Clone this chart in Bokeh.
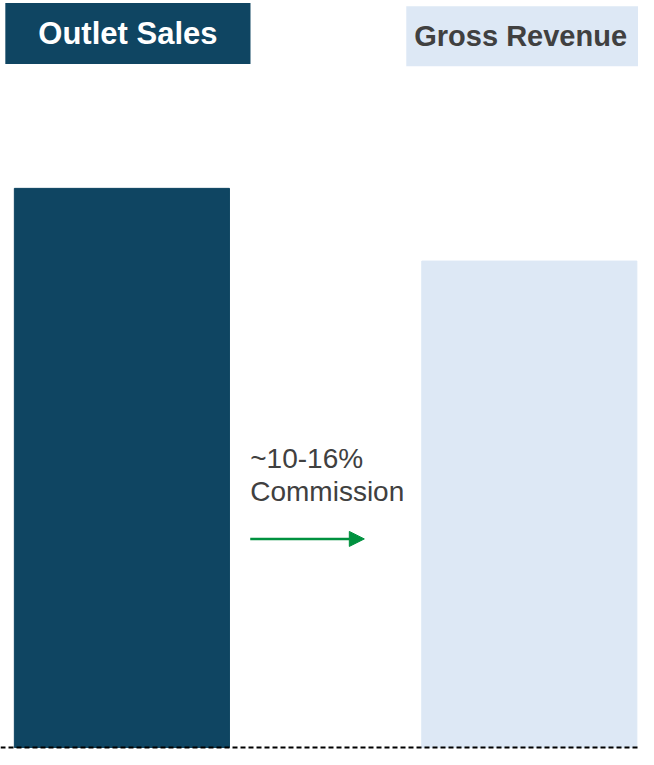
from bokeh.plotting import figure
from bokeh.models import ColumnDataSource, Range1d, Label, Span, Arrow, NormalHead
from bokeh.embed import file_html
from bokeh.resources import INLINE

# ---- data ----
categories = ["Outlet Sales", "Gross Revenue"]
values = [100, 87]
bar_colors = ["#0f4562", "#dde8f5"]
header_text_colors = ["#ffffff", "#404040"]
commission_text = "~10-16%\nCommission"

FONT = "Liberation Sans"

idx = list(range(len(categories)))
src = ColumnDataSource(dict(x=idx, top=values, color=bar_colors, cat=categories))

p = figure(width=638, height=749, output_backend="svg", toolbar_location=None,
           x_range=Range1d(-0.298, 1.268), y_range=Range1d(-0.36, 133.6),
           min_border=0, min_border_left=0, min_border_right=0,
           min_border_top=0, min_border_bottom=0)
p.axis.visible = False
p.grid.visible = False
p.outline_line_color = None
p.background_fill_color = "white"
p.border_fill_color = "white"

p.vbar(x="x", top="top", bottom=0, width=0.528, color="color", source=src)

# baseline
p.add_layout(Span(location=0, dimension="width", line_color="#000000",
                  line_width=2, line_dash="5 3"))

# header labels
p.add_layout(Label(x=idx[0], y=127.7, x_offset=6, text=categories[0],
                   text_align="center", text_baseline="middle",
                   text_font=FONT, text_font_size="31px", text_font_style="bold",
                   text_color=header_text_colors[0],
                   background_fill_color=bar_colors[0],
                   padding=dict(left=33, right=33, top=13, bottom=13)))
p.add_layout(Label(x=idx[1] - 0.302, y=127.2, text=categories[1],
                   text_align="left", text_baseline="middle",
                   text_font=FONT, text_font_size="29px", text_font_style="bold",
                   text_color=header_text_colors[1],
                   background_fill_color=bar_colors[1],
                   padding=dict(left=8, right=30, top=14, bottom=14)))

# commission annotation
p.add_layout(Label(x=0.315, y=54.5, text=commission_text,
                   text_align="left", text_baseline="top",
                   text_font=FONT, text_font_size="28px",
                   text_color="#404040", text_line_height=1.08))
p.add_layout(Arrow(x_start=0.315, y_start=37.3, x_end=0.595, y_end=37.3,
                   line_color="#00913f", line_width=2.5,
                   end=NormalHead(size=15, fill_color="#00913f", line_color="#00913f")))

open("out.html", "w").write(file_html(p, INLINE))
